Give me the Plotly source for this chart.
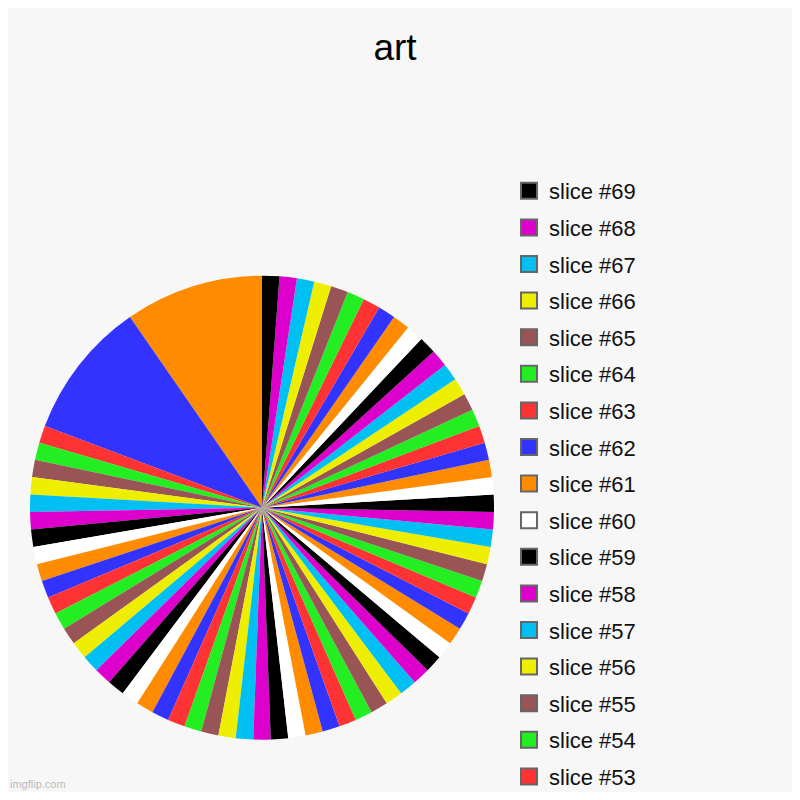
import plotly.graph_objects as go

# slice values (two big slices, the rest equal)
values = [
    8, 8, 1, 1, 1, 1, 1, 1, 1, 1,
    1, 1, 1, 1, 1, 1, 1, 1, 1, 1,
    1, 1, 1, 1, 1, 1, 1, 1, 1, 1,
    1, 1, 1, 1, 1, 1, 1, 1, 1, 1,
    1, 1, 1, 1, 1, 1, 1, 1, 1, 1,
    1, 1, 1, 1, 1, 1, 1, 1, 1, 1,
    1, 1, 1, 1, 1, 1, 1, 1, 1,
]
labels = [f"slice #{i}" for i in range(1, len(values) + 1)]

# imgflip colour cycle
palette = [
    "#FF8C00", "#3333FF", "#FF3333", "#22EE22", "#995555",
    "#EEEE00", "#00BFF2", "#DD00CC", "#000000", "#FFFFFF",
]
colors = [palette[i % len(palette)] for i in range(len(values))]

# the original legend only fits the last 17 slices
LEGEND_FROM = 53

# page body has an 8px margin, so the figure is 784 and sits 8px in
W = H = 784
BG = "#F7F7F7"
FONT = "Liberation Sans, Arial, sans-serif"

fig = go.Figure()

# plotly's counterclockwise pie ends the first slice at 12 o'clock,
# so turn it back by the first slice to start it there instead
first_angle = 360 * values[0] / sum(values)

fig.add_trace(go.Pie(
    labels=labels,
    values=values,
    sort=False,
    direction="counterclockwise",
    rotation=-first_angle,
    marker=dict(colors=colors, line=dict(width=0)),
    textinfo="none",
    showlegend=False,
    domain=dict(x=[22 / W, 486 / W], y=[52.3 / H, 516.3 / H]),
))

# legend entries (newest slice first, like the original)
for i in range(len(values) - 1, LEGEND_FROM - 2, -1):
    fig.add_trace(go.Scatter(
        x=[None], y=[None],
        mode="markers",
        name=labels[i],
        legendgroup=labels[i],
        marker=dict(symbol="square", size=16, color=colors[i],
                    line=dict(color="#666666", width=2)),
        hoverinfo="skip",
    ))

fig.update_xaxes(visible=False)
fig.update_yaxes(visible=False)

fig.update_layout(
    width=W,
    height=H,
    paper_bgcolor=BG,
    plot_bgcolor=BG,
    # legend runs down to the bottom edge; don't let it push margins
    margin=dict(l=0, r=0, t=0, b=0, autoexpand=False),
    title=dict(text="art", x=387 / W, xanchor="center", y=1 - 39 / H, yanchor="middle",
               font=dict(family=FONT, size=37, color="#000000")),
    font=dict(family=FONT, color="#111111"),
    legend=dict(
        x=501 / W, xanchor="left",
        y=1 - 162 / H, yanchor="top",
        font=dict(family=FONT, size=22, color="#111111"),
        tracegroupgap=5.0,
        maxheight=H,
        bgcolor="rgba(0,0,0,0)",
    ),
    annotations=[dict(
        text="imgflip.com", xref="paper", yref="paper",
        x=0, y=0, xanchor="left", yanchor="bottom",
        showarrow=False, font=dict(family=FONT, size=11, color="#BBBBBB"),
    )],
)

fig.write_html("out.html")
